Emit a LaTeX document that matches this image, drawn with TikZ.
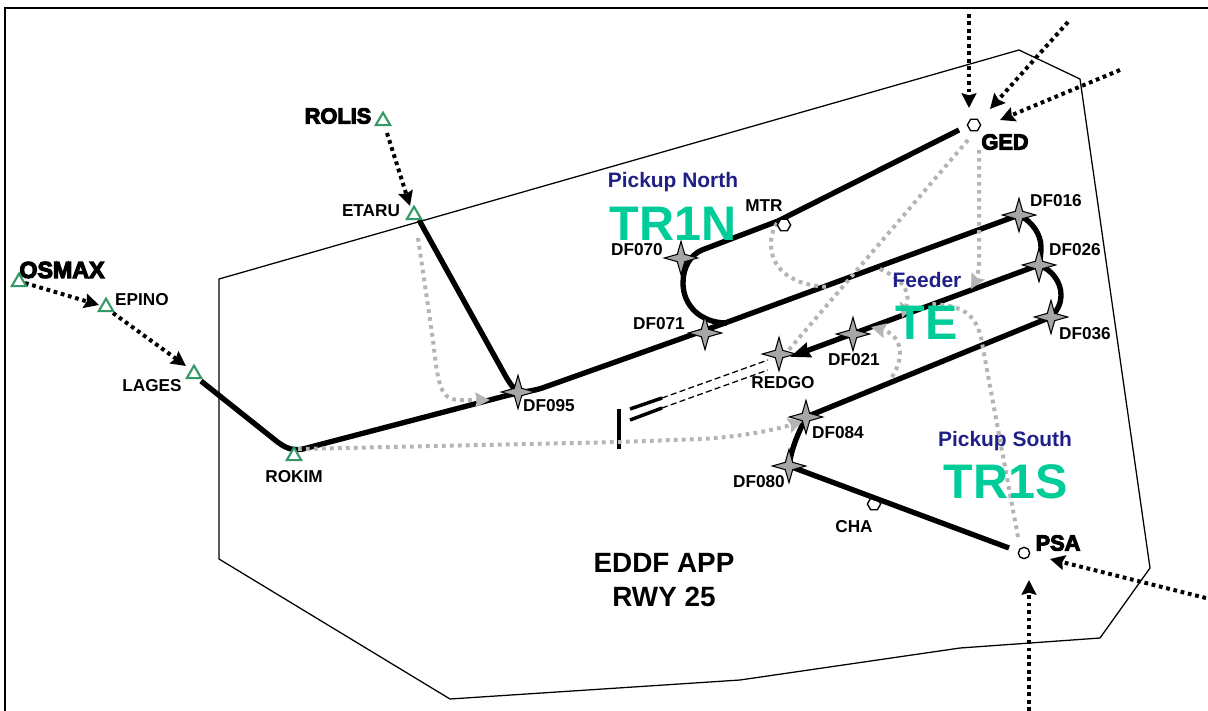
\documentclass[tikz,border=0pt]{standalone}
\usepackage{fontspec}
\setmainfont{Liberation Sans}
\newfontfamily\heavyfont[FakeBold=5]{Liberation Sans Bold}
\usetikzlibrary{shapes.geometric,arrows.meta}
\definecolor{tealc}{HTML}{00CC99}
\definecolor{navyc}{HTML}{1F1F87}
\definecolor{greenc}{HTML}{339966}
\definecolor{greyc}{HTML}{B4B4B4}
\definecolor{starc}{HTML}{A6A6A6}
\tikzset{
  x=0.75pt,y=-0.75pt,
  frameline/.style={line width=1.5pt,black},
  sector/.style={line width=0.95pt,black,line join=miter},
  route/.style={line width=4pt,black},
  runwaybar/.style={line width=2.6pt,black},
  rwdash/.style={line width=0.95pt,black,dash pattern=on 4.5pt off 2.5pt},
  inbound/.style={line width=3pt,black,dash pattern=on 2.8pt off 2.8pt,-{Stealth[length=11pt,width=11pt,inset=1.5pt]}},
  vector/.style={line width=3pt,greyc,dash pattern=on 2.8pt off 3.2pt},
  vectorarrow/.style={vector,-{Stealth[length=11pt,width=11pt,inset=1.5pt,color=greyc]}},
  fixstar/.style={star,star points=4,star point ratio=3.2,minimum size=25pt,inner sep=0pt,draw=black,line width=0.8pt,fill=starc},
  tri/.style={regular polygon,regular polygon sides=3,minimum size=12.5pt,inner sep=0pt,draw=greenc,line width=1.6pt,fill=white},
  hex/.style={regular polygon,regular polygon sides=6,minimum size=10pt,inner sep=0pt,draw=black,line width=1pt,fill=white},
  circ/.style={circle,minimum size=8.5pt,inner sep=0pt,draw=black,line width=1pt,fill=white},
  lab/.style={inner sep=0pt,font=\fontsize{12.9}{15}\selectfont\bfseries},
  heavylab/.style={inner sep=0pt,font=\fontsize{16.3}{18}\selectfont\heavyfont},
  subttl/.style={inner sep=0pt,text=navyc,font=\fontsize{15.7}{18}\selectfont\bfseries},
  bigttl/.style={inner sep=0pt,text=tealc,font=\fontsize{36.4}{40}\selectfont\bfseries},
  mainttl/.style={inner sep=0pt,font=\fontsize{20.9}{25}\selectfont\bfseries},
}
\begin{document}
\begin{tikzpicture}
\useasboundingbox (0,0) rectangle (1208,711);
% frame and sector
\coordinate (fa) at (5,711); \coordinate (fb) at (5,8); \coordinate (fc) at (1208,8);
\draw[frameline] (fa) -- (fb) -- (fc);
\coordinate (s1) at (219,279); \coordinate (s2) at (1019,50); \coordinate (s3) at (1080,79);
\coordinate (s4) at (1150,568); \coordinate (s5) at (1100,638); \coordinate (s6) at (960,648);
\coordinate (s7) at (740,680); \coordinate (s8) at (450,699); \coordinate (s9) at (219,559);
\draw[sector] (s1) -- (s2) -- (s3) -- (s4) -- (s5) -- (s6) -- (s7) -- (s8) -- (s9) -- cycle;
% fix positions
\coordinate (osmax) at (19,282); \coordinate (epino) at (106,307); \coordinate (lages) at (194,374);
\coordinate (rokim) at (294,456); \coordinate (rolis) at (383,121); \coordinate (etaru) at (414,215);
\coordinate (df095) at (518,392); \coordinate (df070) at (681,258); \coordinate (df071) at (705,333);
\coordinate (mtr) at (784,225); \coordinate (ged) at (974,125); \coordinate (df016) at (1019,215);
\coordinate (df026) at (1039,265); \coordinate (df036) at (1051,317); \coordinate (df021) at (853,334);
\coordinate (redgo) at (779,354); \coordinate (df084) at (806,417); \coordinate (df080) at (789,466);
\coordinate (cha) at (874,504); \coordinate (psa) at (1024,553);
% free ends
\coordinate (lagesout) at (201,381); \coordinate (etaruout) at (419,220);
\coordinate (gedin) at (959,130); \coordinate (psain) at (1009,548); \coordinate (redgotip) at (790,357);
\coordinate (rwA) at (619,409); \coordinate (rwB) at (619,449);
\coordinate (rwC) at (630,409); \coordinate (rwD) at (662,398); \coordinate (rwE) at (630,420); \coordinate (rwF) at (662,408);
\coordinate (rwG) at (768,360); \coordinate (rwH) at (768,370);
\coordinate (i1) at (969,14); \coordinate (i1e) at (969,108);
\coordinate (i2) at (1068,22); \coordinate (i2e) at (990,109);
\coordinate (i3) at (1120,70); \coordinate (i3e) at (1000,120);
\coordinate (i4) at (1206,598); \coordinate (i4e) at (1050,559);
\coordinate (i5) at (1029,711); \coordinate (i5e) at (1029,580);
\coordinate (o1) at (25,283); \coordinate (o1e) at (99,305);
\coordinate (e1) at (113,313); \coordinate (e1e) at (186,366);
\coordinate (r1) at (387,133); \coordinate (r1e) at (410,206);
% hexagon partly hidden by its route
\node[hex] (ncha) at (cha) {};
% routes
\draw[route,line join=round] (lagesout) -- (275,440) .. controls (285,448) and (292,451) .. (303,449)
  -- (505,396) .. controls (525,391) and (535,391) .. (545,387) -- (725,323);
\draw[route] (etaruout) -- (505,375) .. controls (510,384) and (514,389) .. (df095);
\draw[route,line join=round] (gedin) -- (778,221) -- (702,250) .. controls (690,255) and (683,268) .. (683,283)
  .. controls (683,305) and (700,323) .. (727,323);
\draw[route] (725,323) -- (df016);
\draw[route] (df016) .. controls (1033,222) and (1041,235) .. (1041,247) .. controls (1041,255) and (1040,260) .. (df026);
\draw[route,-{Stealth[length=15pt,width=11pt,inset=1pt]}] (df026) -- (redgotip);
\draw[route] (df026) .. controls (1052,270) and (1061,282) .. (1061,295) .. controls (1061,305) and (1056,312) .. (df036);
\draw[route] (df036) -- (df084);
\draw[route] (df084) .. controls (800,430) and (792,445) .. (df080);
\draw[route] (df080) -- (psain);
% runway
\draw[runwaybar] (rwA) -- (rwB);
\draw[runwaybar] (rwC) -- (rwD);
\draw[runwaybar] (rwE) -- (rwF);
\draw[rwdash] (rwD) -- (rwG);
\draw[rwdash] (rwF) -- (rwH);
% black dotted inbound
\draw[inbound] (i1) -- (i1e);
\draw[inbound] (i2) -- (i2e);
\draw[inbound] (i3) -- (i3e);
\draw[inbound] (i4) -- (i4e);
\draw[inbound] (i5) -- (i5e);
\draw[inbound] (o1) -- (o1e);
\draw[inbound] (e1) -- (e1e);
\draw[inbound] (r1) -- (r1e);
% grey vectors
\coordinate (v1) at (418,238); \coordinate (v1e) at (490,400);
\draw[vectorarrow] (v1) -- (433,340) .. controls (438,385) and (440,400) .. (460,400) -- (v1e);
\coordinate (v2) at (298,449); \coordinate (v2e) at (803,421);
\draw[vectorarrow] (v2) -- (620,442) -- (700,439) .. controls (740,437) and (775,430) .. (v2e);
\coordinate (v3) at (968,140); \coordinate (v3e) at (787,352);
\draw[vector] (v3) -- (v3e);
\coordinate (v4) at (979,150); \coordinate (v4e) at (971,289);
\draw[vectorarrow] (v4) -- (979,262) .. controls (979,272) and (976,280) .. (v4e);
\coordinate (v5) at (777,223); \coordinate (v5e) at (830,287);
\draw[vector] (v5) .. controls (765,240) and (765,285) .. (v5e);
\coordinate (v6) at (880,269); \coordinate (v6e) at (902,318);
\draw[vectorarrow] (v6) .. controls (900,278) and (912,290) .. (v6e);
\coordinate (v7) at (892,377); \coordinate (v7e) at (871,327);
\draw[vectorarrow] (v7) .. controls (905,357) and (902,335) .. (v7e);
\coordinate (v8) at (1018,537); \coordinate (v8e) at (930,304);
\draw[vector] (v8) -- (982,343) .. controls (977,312) and (960,305) .. (v8e);
% fixes
\node[tri] (nosmax) at (osmax) {};
\node[tri] (nepino) at (epino) {};
\node[tri] (nlages) at (lages) {};
\node[tri] (nrokim) at (rokim) {};
\node[tri] (nrolis) at (rolis) {};
\node[tri] (netaru) at (etaru) {};
\node[fixstar] (ndf095) at (df095) {};
\node[fixstar] (ndf070) at (df070) {};
\node[fixstar] (ndf071) at (df071) {};
\node[fixstar] (ndf016) at (df016) {};
\node[fixstar] (ndf026) at (df026) {};
\node[fixstar] (ndf036) at (df036) {};
\node[fixstar] (ndf021) at (df021) {};
\node[fixstar] (nredgo) at (redgo) {};
\node[fixstar] (ndf084) at (df084) {};
\node[fixstar] (ndf080) at (df080) {};
\node[hex] (nmtr) at (mtr) {};
\node[hex] (nged) at (ged) {};
\node[circ] (npsa) at (psa) {};
% labels
\node[heavylab,font=\fontsize{17.4}{20}\selectfont\heavyfont] (tosmax) at (62,270) {OSMAX};
\node[lab] (tepino) at (142,300) {EPINO};
\node[lab] (tlages) at (152,386) {LAGES};
\node[lab] (trokim) at (294,477) {ROKIM};
\node[heavylab] (trolis) at (338,116) {ROLIS};
\node[lab] (tetaru) at (371,211) {ETARU};
\node[lab] (tdf095) at (549,406) {DF095};
\node[lab] (tmtr) at (764,206) {MTR};
\node[lab] (tdf070) at (637,250) {DF070};
\node[lab] (tdf071) at (659,324) {DF071};
\node[lab] (tdf016) at (1056,201) {DF016};
\node[lab] (tdf026) at (1075,250) {DF026};
\node[lab] (tdf036) at (1085,334) {DF036};
\node[lab] (tdf021) at (854,360) {DF021};
\node[lab] (tredgo) at (783,383) {REDGO};
\node[lab] (tdf084) at (838,433) {DF084};
\node[lab] (tdf080) at (759,482) {DF080};
\node[lab] (tcha) at (854,527) {CHA};
\node[heavylab] (tged) at (1005,142) {GED};
\node[heavylab] (tpsa) at (1058,543) {PSA};
\node[subttl] (tpn) at (673,182) {Pickup North};
\node[bigttl] (ttr1n) at (673,224) {TR1N};
\node[subttl] (tfd) at (927,280) {Feeder};
\node[bigttl] (tte) at (927,323) {TE};
\node[subttl] (tps) at (1005,441) {Pickup South};
\node[bigttl] (ttr1s) at (1006,482) {TR1S};
\node[mainttl] (tm1) at (664,563) {EDDF APP};
\node[mainttl] (tm2) at (664,597) {RWY 25};
\end{tikzpicture}
\end{document}
